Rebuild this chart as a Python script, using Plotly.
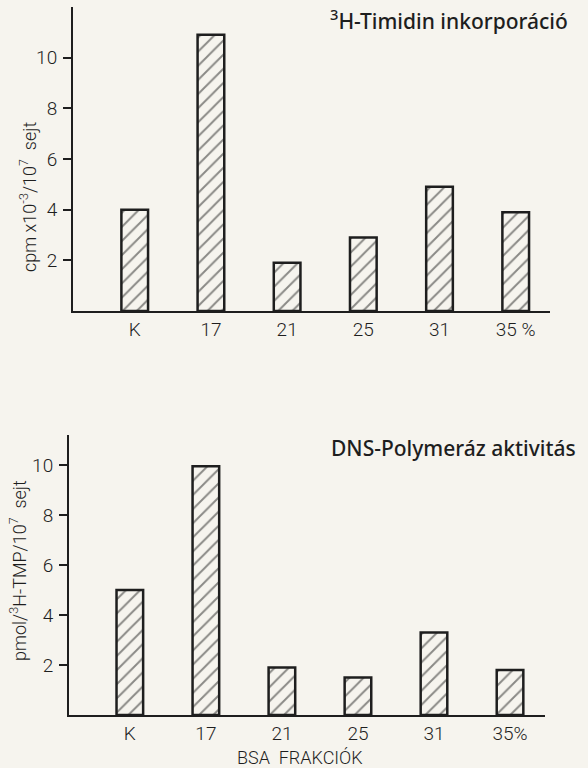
import plotly.graph_objects as go

categories = ["K", "17", "21", "25", "31", "35"]
tick_top = ["K", "17", "21", "25", "31", "35 %"]
tick_bottom = ["K", "17", "21", "25", "31", "35%"]
thymidine = [4.0, 10.9, 1.9, 2.9, 4.9, 3.9]
polymerase = [5.0, 9.95, 1.9, 1.5, 3.3, 1.8]
ytick_vals = [2, 4, 6, 8, 10]

BG = "#f6f4ee"
INK = "#1e1e1e"
TICKFONT = dict(family="Roboto, Arial", size=19, color=INK, weight=300)

fig = go.Figure()

pattern = dict(shape="/", size=10, solidity=0.2, fgcolor=INK, bgcolor=BG, fillmode="overlay")

fig.add_trace(go.Bar(
    x=categories, y=thymidine, xaxis="x", yaxis="y", width=0.35,
    marker=dict(color=BG, line=dict(color=INK, width=2.5), pattern=pattern),
    showlegend=False,
))
fig.add_trace(go.Bar(
    x=categories, y=polymerase, xaxis="x2", yaxis="y2", width=0.35,
    marker=dict(color=BG, line=dict(color=INK, width=2.5), pattern=pattern),
    showlegend=False,
))

W, H = 588, 768

def px(xp):
    return xp / W

def py(yp):
    return 1 - yp / H

xcommon = dict(type="category", showline=True, linecolor=INK, linewidth=2,
               ticks="", showgrid=False, zeroline=False, tickfont=TICKFONT,
               fixedrange=True)
ycommon = dict(showline=True, linecolor=INK, linewidth=2, ticks="outside",
               ticklen=8, tickwidth=1.5, tickcolor=INK, showgrid=False,
               zeroline=False, tickvals=ytick_vals, tickfont=TICKFONT,
               ticklabelstandoff=2)

fig.update_layout(
    width=W, height=H,
    margin=dict(l=0, r=0, t=0, b=0),
    paper_bgcolor=BG, plot_bgcolor=BG,
    bargap=0.5,
    xaxis=dict(**xcommon, domain=[px(73), px(550)], range=[-0.81, 5.45],
               anchor="y", tickvals=categories, ticktext=tick_top),
    yaxis=dict(**ycommon, domain=[py(311), py(7)], range=[0, 12.0], anchor="x"),
    xaxis2=dict(**xcommon, domain=[px(69), px(545)], range=[-0.80, 5.46],
                anchor="y2", tickvals=categories, ticktext=tick_bottom),
    yaxis2=dict(**ycommon, domain=[py(715), py(435)], range=[0, 11.2], anchor="x2"),
    font=dict(family="Roboto, Arial", color=INK),
)

TITLEFONT = dict(family="Noto Sans, Open Sans, DejaVu Sans", size=21, color=INK, weight=500)
LABELFONT = dict(family="Roboto, Arial", size=18, color=INK, weight=300)

fig.add_annotation(text="<sup>3</sup>H-Timidin inkorporáció", xref="paper", yref="paper",
                   x=px(570), y=py(20), xanchor="right", yanchor="middle",
                   showarrow=False, font=TITLEFONT)
fig.add_annotation(text="DNS-Polymeráz aktivitás", xref="paper", yref="paper",
                   x=px(578), y=py(448), xanchor="right", yanchor="middle",
                   showarrow=False, font=TITLEFONT)
fig.add_annotation(text="cpm x10<sup>-3</sup>/10<sup>7</sup>  sejt", xref="paper", yref="paper",
                   x=px(28), y=py(197), xanchor="center", yanchor="middle",
                   textangle=-90, showarrow=False, font=LABELFONT)
fig.add_annotation(text="pmol/<sup>3</sup>H-TMP/10<sup>7</sup>  sejt", xref="paper", yref="paper",
                   x=px(18), y=py(571), xanchor="center", yanchor="middle",
                   textangle=-90, showarrow=False, font=LABELFONT)
fig.add_annotation(text="BSA  FRAKCIÓK", xref="paper", yref="paper",
                   x=px(300), y=py(757), xanchor="center", yanchor="middle",
                   showarrow=False, font=dict(family="Roboto, Arial", size=18, color=INK, weight=300))

fig.write_html("out.html")
